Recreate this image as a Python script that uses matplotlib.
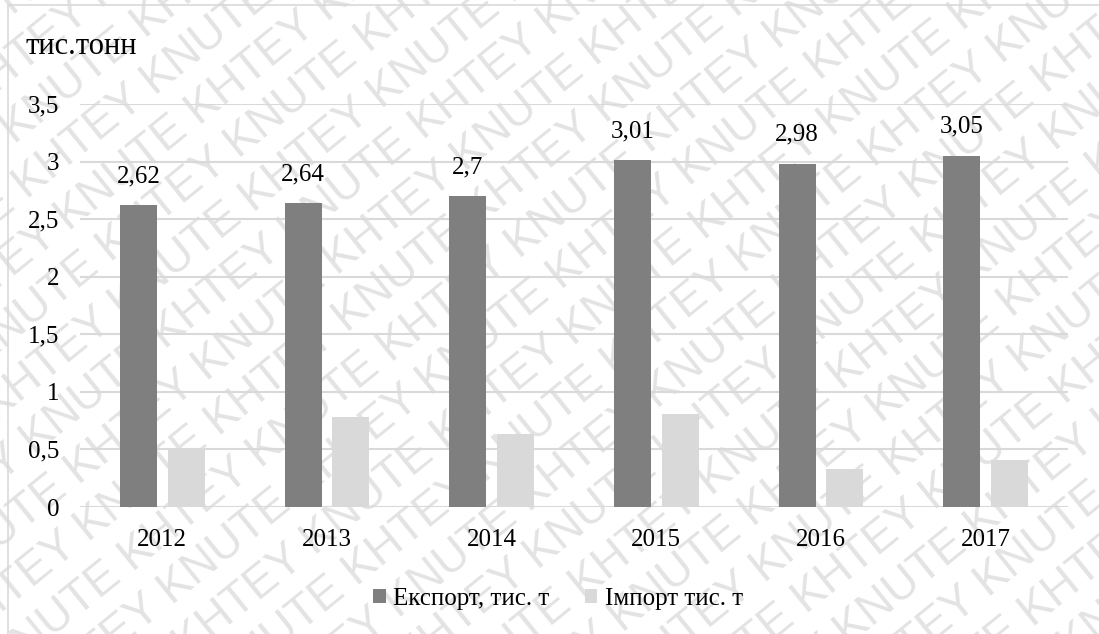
import numpy as np
import matplotlib
matplotlib.use("Agg")
import matplotlib.pyplot as plt
from matplotlib.patches import Rectangle

years = ["2012", "2013", "2014", "2015", "2016", "2017"]
export_vals = [2.62, 2.64, 2.7, 3.01, 2.98, 3.05]
import_vals = [0.50, 0.78, 0.63, 0.81, 0.33, 0.41]
export_labels = ["2,62", "2,64", "2,7", "3,01", "2,98", "3,05"]
yticks = [0, 0.5, 1, 1.5, 2, 2.5, 3, 3.5]
ytick_labels = ["0", "0,5", "1", "1,5", "2", "2,5", "3", "3,5"]
series_names = ["Експорт, тис. т", "Імпорт тис. т"]
unit_label = "тис.тонн"

plt.rcParams["font.family"] = ["Liberation Serif", "DejaVu Serif"]

W, H = 1099, 634
fig = plt.figure(figsize=(W / 100, H / 100), dpi=100)
fig.patch.set_facecolor("white")

# diagonal watermark behind the chart
rows = []
for i in range(30):
    start = "KHTEY KNUTE " if i % 2 == 0 else "KNUTE KHTEY "
    rows.append(("  " * (i % 3)) + (start * 10))
fig.text(0.5, 0.5, "\n".join(rows), rotation=39, rotation_mode="anchor",
         ha="center", va="center", fontsize=33, family="Liberation Sans",
         color="#e3e3e3", linespacing=1.2, zorder=-5)

# chart-area frame
fig.patches.append(Rectangle((8 / W, -0.1), 1.2, 1 - 5 / H + 0.1,
                             transform=fig.transFigure, fill=False,
                             edgecolor="#d9d9d9", linewidth=1.2))

ax = fig.add_axes([80 / W, 127 / H, (1068 - 80) / W, (507 - 104) / H])
ax.set_zorder(1)
x = np.arange(len(years))
bw = 0.2235
off = 0.145
dark, light = "#7f7f7f", "#d9d9d9"
b1 = ax.bar(x - off, export_vals, bw, color=dark, zorder=3, label=series_names[0])
b2 = ax.bar(x + off, import_vals, bw, color=light, zorder=3, label=series_names[1])

for rect, txt in zip(b1, export_labels):
    ax.annotate(txt, (rect.get_x() + rect.get_width() / 2, rect.get_height()),
                xytext=(0, 13), textcoords="offset points",
                ha="center", va="bottom", fontsize=18, color="#000000")

ax.set_xlim(-0.5, len(years) - 0.5)
ax.set_ylim(0, 3.5)
ax.set_yticks(yticks)
ax.set_yticklabels(ytick_labels)
ax.set_xticks(x)
ax.set_xticklabels(years)
ax.tick_params(axis="both", length=0, labelsize=18, colors="#000000")
ax.tick_params(axis="y", pad=15)
ax.tick_params(axis="x", pad=16)
ax.grid(axis="y", color="#d9d9d9", linewidth=1.5, zorder=0)
for s in ax.spines.values():
    s.set_visible(False)
ax.set_facecolor("none")

fig.text(25 / W, 1 - 54 / H, unit_label, fontsize=22, ha="left", va="baseline")

fig.legend(handles=[b1, b2], labels=series_names, loc="center",
           bbox_to_anchor=(558 / W, 1 - 599 / H), ncol=2, frameon=False,
           fontsize=18, handlelength=0.5, handleheight=0.5,
           handletextpad=0.3, columnspacing=1.4)

fig.savefig("out.png", dpi=100)
